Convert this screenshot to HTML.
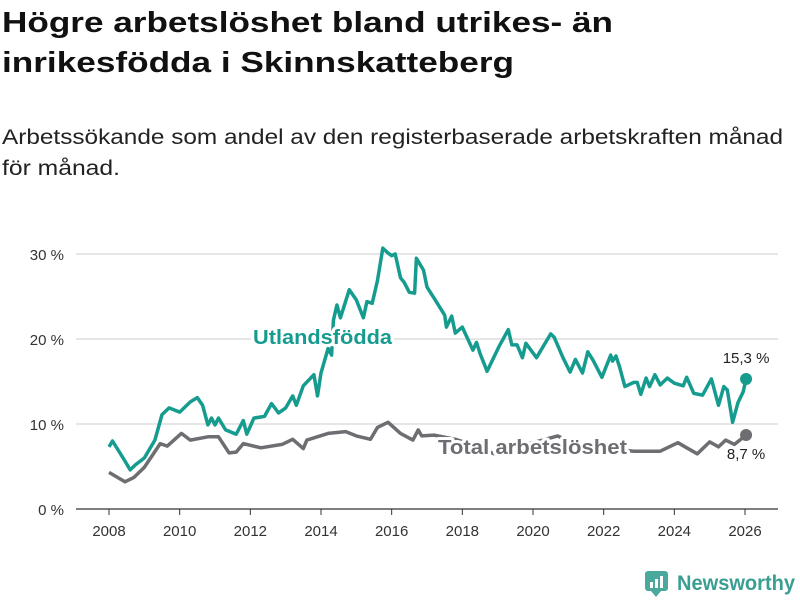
<!DOCTYPE html>
<html><head><meta charset="utf-8"><style>
body{margin:0;background:#fff;}
svg{display:block;font-family:"Liberation Sans",sans-serif;}
</style></head><body>
<svg id="chart" width="800" height="600" viewBox="0 0 800 600">
<text x="2" y="32" font-size="29" font-weight="bold" fill="#111" textLength="611" lengthAdjust="spacingAndGlyphs">Högre arbetslöshet bland utrikes- än</text>
<text x="2" y="72" font-size="29" font-weight="bold" fill="#111" textLength="512" lengthAdjust="spacingAndGlyphs">inrikesfödda i Skinnskatteberg</text>
<text x="2" y="144" font-size="21" fill="#222" textLength="781" lengthAdjust="spacingAndGlyphs">Arbetssökande som andel av den registerbaserade arbetskraften månad</text>
<text x="2" y="175" font-size="21" fill="#222" textLength="118" lengthAdjust="spacingAndGlyphs">för månad.</text>
<g id="grid"></g><g id="axes"></g><g id="series"></g><g id="labels"></g>
<g>
<rect x="645" y="571" width="23" height="20" rx="3" fill="#4aa89c"/>
<path d="M651 591 L656 597 L661 591 Z" fill="#4aa89c"/>
<rect x="650" y="582" width="3" height="6" fill="#fff"/><rect x="655" y="579" width="3" height="9" fill="#fff"/><rect x="660" y="576" width="3" height="12" fill="#fff"/>
<text x="677" y="590" font-size="21" font-weight="bold" fill="#3a9e92" textLength="118" lengthAdjust="spacingAndGlyphs">Newsworthy</text>
</g>
</svg>
<script>
const yTicks=[0,10,20,30];
const xTicks=[2008,2010,2012,2014,2016,2018,2020,2022,2024,2026];
const utlDates=[2008.0,2008.1,2008.4,2008.6,2008.75,2009.0,2009.3,2009.5,2009.7,2010.0,2010.3,2010.5,2010.65,2010.8,2010.9,2011.0,2011.1,2011.3,2011.6,2011.8,2011.9,2012.1,2012.4,2012.6,2012.8,2013.0,2013.2,2013.3,2013.5,2013.8,2013.9,2014.0,2014.2,2014.3,2014.35,2014.45,2014.55,2014.8,2015.0,2015.2,2015.3,2015.45,2015.6,2015.75,2015.9,2016.0,2016.1,2016.25,2016.35,2016.5,2016.65,2016.7,2016.9,2017.0,2017.2,2017.5,2017.55,2017.7,2017.8,2018.0,2018.3,2018.4,2018.5,2018.7,2019.05,2019.3,2019.4,2019.55,2019.7,2019.8,2020.1,2020.5,2020.6,2020.85,2021.05,2021.2,2021.4,2021.55,2021.7,2021.95,2022.2,2022.25,2022.35,2022.45,2022.6,2022.85,2022.95,2023.05,2023.2,2023.3,2023.45,2023.6,2023.8,2024.0,2024.25,2024.35,2024.55,2024.8,2025.05,2025.25,2025.4,2025.5,2025.65,2025.8,2025.95,2026.03];
const utlValues=[7.3,8.0,6.0,4.6,5.2,6.0,8.1,11.1,11.9,11.4,12.6,13.1,12.2,9.9,10.7,9.9,10.7,9.3,8.8,10.4,8.8,10.7,10.9,12.4,11.3,11.9,13.3,12.2,14.5,15.8,13.3,16.0,18.9,18.1,22.2,24.0,22.5,25.8,24.6,22.5,24.4,24.2,26.9,30.7,30.1,29.8,30.0,27.2,26.7,25.5,25.4,29.5,28.1,26.1,24.8,22.8,21.4,22.7,20.7,21.4,18.7,19.6,18.3,16.2,19.2,21.1,19.3,19.3,17.8,19.5,17.8,20.6,20.2,17.8,16.1,17.6,16.0,18.5,17.5,15.5,18.1,17.4,18.0,16.7,14.4,14.9,14.9,13.5,15.4,14.4,15.8,14.6,15.4,14.8,14.5,15.5,13.6,13.4,15.3,12.2,14.4,14.0,10.2,12.5,13.8,15.3];
const totDates=[2008.0,2008.45,2008.7,2009.0,2009.45,2009.65,2010.05,2010.3,2010.8,2011.1,2011.4,2011.6,2011.8,2012.3,2012.9,2013.2,2013.5,2013.6,2014.2,2014.7,2015.0,2015.4,2015.6,2015.9,2016.25,2016.6,2016.75,2016.85,2017.2,2017.8,2018.4,2018.9,2019.5,2020.0,2020.7,2021.2,2021.8,2022.4,2022.85,2023.6,2024.1,2024.35,2024.65,2025.0,2025.25,2025.45,2025.7,2026.03];
const totValues=[4.3,3.2,3.7,4.9,7.7,7.4,8.9,8.1,8.5,8.5,6.6,6.7,7.7,7.2,7.6,8.2,7.1,8.1,8.9,9.1,8.6,8.2,9.6,10.2,8.9,8.1,9.3,8.6,8.7,8.2,7.4,6.5,7.5,7.8,8.6,7.6,7.2,7.0,6.8,6.8,7.8,7.2,6.5,7.9,7.3,8.1,7.6,8.7];
const NS="http://www.w3.org/2000/svg";
const X=v=>109+(v-2008)*(745-109)/18;
const Y=v=>509-v*8.5;
function mk(tag,attrs,parent){const e=document.createElementNS(NS,tag);for(const k in attrs)e.setAttribute(k,attrs[k]);document.getElementById(parent).appendChild(e);return e;}
yTicks.forEach(t=>{
 const l=mk('line',{x1:76,x2:778,y1:Y(t),y2:Y(t),stroke:t===0?'#333':'#ddd','stroke-width':t===0?1.3:1.5},'grid');
 
 
 const tx=mk('text',{x:64,y:Y(t)+6,'font-size':15,fill:'#333','text-anchor':'end'},'axes');
 tx.textContent=t+' %';
 
 
});
xTicks.forEach(t=>{
 const l=mk('line',{x1:X(t),x2:X(t),y1:509,y2:515,stroke:'#333','stroke-width':1},'axes');
 
 
 const tx=mk('text',{x:X(t),y:536,'font-size':15,fill:'#333','text-anchor':'middle'},'axes');
 tx.textContent=t;
 
 
});
function line(d,v,col,name){
 const p=mk('path',{d:d.map((x,i)=>(i?'L':'M')+X(x).toFixed(1)+' '+Y(v[i]).toFixed(1)).join(''),fill:'none',stroke:col,'stroke-width':3.5,'stroke-linejoin':'round'},'series');
 
 
 const c=mk('circle',{cx:X(d[d.length-1]),cy:Y(v[v.length-1]),r:6,fill:col},'series');
 
 
}
line(totDates,totValues,'#6e6d72','total-line');
line(utlDates,utlValues,'#169c8f','utlandsfodda-line');
function lbl(x,y,t,col,size,w,anchor,name,len){
 const a={x:x,y:y,'font-size':size,'font-weight':w,fill:col,stroke:'#fff','stroke-width':6,'paint-order':'stroke','text-anchor':anchor,'stroke-linejoin':'round'};
 if(len){a.textLength=len;a.lengthAdjust='spacingAndGlyphs';}
 const e=mk('text',a,'labels');
 e.textContent=t;
 
 
}
lbl(253,344,'Utlandsfödda','#169c8f',20,'bold','start','utlandsfodda-label',139);
lbl(438,454,'Total arbetslöshet','#6e6d72',20,'bold','start','total-label',189);
lbl(X(utlDates[utlDates.length-1]),363,utlValues[utlValues.length-1].toFixed(1).replace('.',',')+' %','#222',15,'normal','middle','utlandsfodda-value');
lbl(X(totDates[totDates.length-1]),459,totValues[totValues.length-1].toFixed(1).replace('.',',')+' %','#222',15,'normal','middle','total-value');
</script>
</body></html>
